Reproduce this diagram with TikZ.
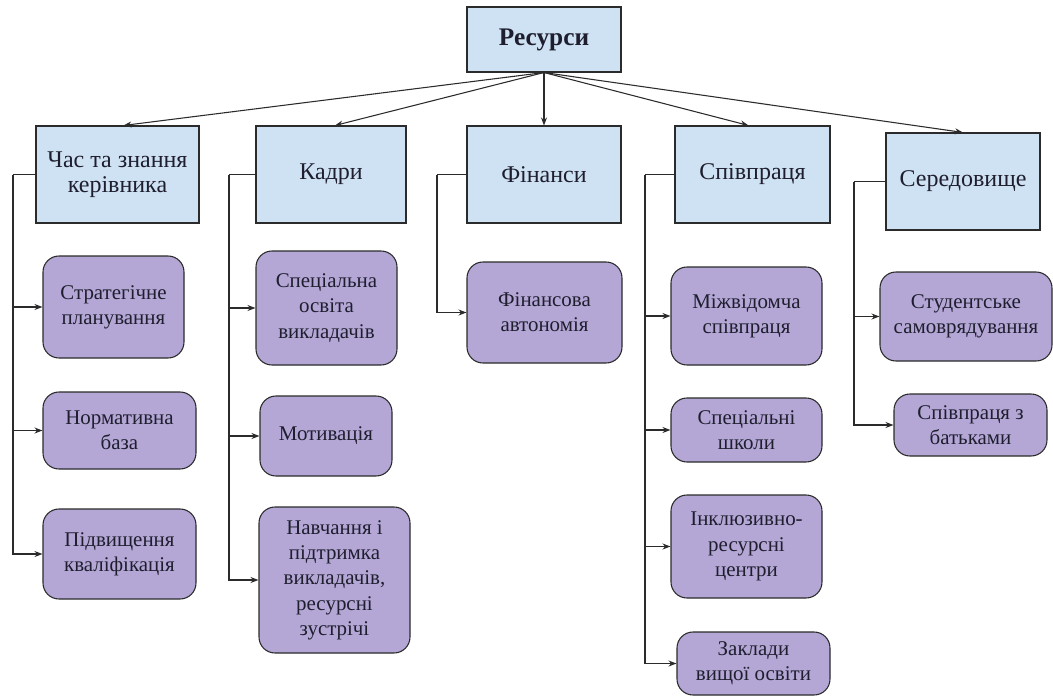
\documentclass[tikz,border=0pt]{standalone}
\usepackage{fontspec}
\IfFontExistsTF{LiberationSerif-Regular.ttf}
  {\setmainfont{LiberationSerif-Regular.ttf}[BoldFont=LiberationSerif-Bold.ttf]}
  {\setmainfont{Liberation Serif}}
\usetikzlibrary{arrows.meta}
\definecolor{lblue}{HTML}{CFE2F3}
\definecolor{lpurple}{HTML}{B4A7D6}
\definecolor{edge}{HTML}{2B2B2B}
\definecolor{txt}{HTML}{1E1E2E}
\begin{document}
\begin{tikzpicture}[x=0.75pt,y=-0.75pt,
  sz/.style 2 args={minimum width=#1*0.75pt, minimum height=#2*0.75pt},
  topbox/.style={draw=edge, line width=0.8pt, fill=lblue, align=center, inner sep=1pt,
    text=txt, font=\fontsize{19}{22}\selectfont\bfseries},
  catbox/.style={draw=edge, line width=0.8pt, fill=lblue, align=center, inner sep=1pt,
    text=txt, font=\fontsize{18}{18.5}\selectfont},
  itembox/.style={draw=edge, line width=0.8pt, fill=lpurple, rounded corners=12pt,
    align=center, inner sep=1pt, text=txt, font=\fontsize{15.7}{19}\selectfont},
  conn/.style={draw=edge, line width=0.8pt},
  arr/.style={conn, -{Stealth[length=6pt,width=4.5pt]}}]
\useasboundingbox (0,0) rectangle (1053,696);

% top
\node[topbox, sz={154}{65}] (top) at (544,39.5) {Ресурси};

% level 1
\node[catbox, sz={163}{97}] (c1) at (117.5,174.5) {Час та знання\\керівника};
\node[catbox, sz={150}{97}] (c2) at (331,174.5) {Кадри};
\node[catbox, sz={154}{97}] (c3) at (544,174.5) {Фінанси};
\node[catbox, sz={155}{97}] (c4) at (752.5,174.5) {Співпраця};
\node[catbox, sz={154}{97}] (c5) at (963,181.5) {Середовище};

% level 2
\node[itembox, sz={141}{102}] (a1) at (113.5,307) {Стратегічне\\планування};
\node[itembox, sz={153}{77}]  (a2) at (119.5,430.5) {Нормативна\\база};
\node[itembox, sz={153}{90}]  (a3) at (119.5,554) {Підвищення\\кваліфікація};

\node[itembox, sz={141}{114}] (b1) at (326.5,308) {Спеціальна\\освіта\\викладачів};
\node[itembox, sz={132}{80}]  (b2) at (326,436) {Мотивація};
\node[itembox, sz={151}{146}] (b3) at (334.5,580) {Навчання і\\підтримка\\викладачів,\\ресурсні\\зустрічі};

\node[itembox, sz={155}{101}] (f1) at (544.5,312.5) {Фінансова\\автономія};

\node[itembox, sz={151}{98}]  (s1) at (746.5,316) {Міжвідомча\\співпраця};
\node[itembox, sz={151}{64}]  (s2) at (746.5,430) {Спеціальні\\школи};
\node[itembox, sz={151}{103}] (s3) at (746.5,546.5) {Інклюзивно-\\ресурсні\\центри};
\node[itembox, sz={153}{63}]  (s4) at (753.5,663.5) {Заклади\\вищої освіти};

\node[itembox, sz={172}{89}]  (e1) at (966,316.5) {Студентське\\самоврядування};
\node[itembox, sz={153}{62}]  (e2) at (970.5,425) {Співпраця з\\батьками};

% top arrows
\draw[arr] (top.south) -- ([xshift=4.5pt]c1.north);
\draw[arr] (top.south) -- ([xshift=3pt]c2.north);
\draw[arr] (top.south) -- (c3.north);
\draw[arr] (top.south) -- ([xshift=-3pt]c4.north);
\draw[arr] (top.south) -- (c5.north);

% bend points
\coordinate (k1) at (13,174.5);
\coordinate (k2) at (229,174.5);
\coordinate (k3) at (437,174.5);
\coordinate (k4) at (645,174.5);
\coordinate (k5) at (854,181.5);

\draw[conn] (c1.west) -- (k1);
\draw[arr] (k1) |- (a1.west);
\draw[arr] (k1) |- (a2.west);
\draw[arr] (k1) |- (a3.west);

\draw[conn] (c2.west) -- (k2);
\draw[arr] (k2) |- (b1.west);
\draw[arr] (k2) |- (b2.west);
\draw[arr] (k2) |- (b3.west);

\draw[conn] (c3.west) -- (k3);
\draw[arr] (k3) |- (f1.west);

\draw[conn] (c4.west) -- (k4);
\draw[arr] (k4) |- (s1.west);
\draw[arr] (k4) |- (s2.west);
\draw[arr] (k4) |- (s3.west);
\draw[arr] (k4) |- (s4.west);

\draw[conn] (c5.west) -- (k5);
\draw[arr] (k5) |- (e1.west);
\draw[arr] (k5) |- (e2.west);
\end{tikzpicture}
\end{document}
